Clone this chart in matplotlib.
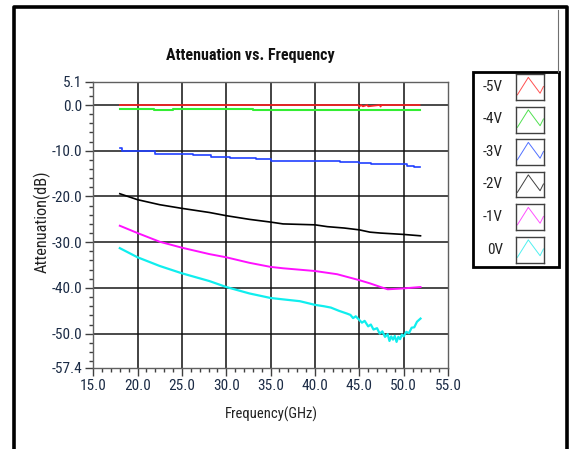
import numpy as np
import matplotlib
matplotlib.use("Agg")
import matplotlib.pyplot as plt
from matplotlib import font_manager
from matplotlib.lines import Line2D
from matplotlib.patches import Rectangle
from matplotlib.ticker import MultipleLocator, FixedLocator

# prefer a narrow face, the original uses a condensed UI font
installed = {f.name for f in font_manager.fontManager.ttflist}
narrow = [n for n in ['Liberation Sans Narrow', 'Roboto Condensed', 'Noto Sans Condensed',
                      'Open Sans Condensed', 'DejaVu Sans Condensed'] if n in installed]
if narrow:
    plt.rcParams['font.family'] = [narrow[0], 'DejaVu Sans']
    fs = 10.5
else:
    plt.rcParams['font.family'] = ['Liberation Sans', 'DejaVu Sans']
    fs = 9.5

# -5V (red)
freqM5 = [18.0, 44.9, 45.0, 45.2, 45.4, 45.9, 46.0, 47.3, 47.4, 47.5, 51.8]
attM5 = [0.0, 0.0, -0.35, 0.0, -0.3, 0.0, -0.3, 0.0, -0.35, 0.0, 0.0]

# -4V (green), stepped
freqM4 = [18.0, 21.8, 24.0, 33.0, 51.8]
attM4 = [-0.8, -1.1, -0.8, -1.1, -1.1]

# -3V (blue), stepped
freqM3 = [18.0, 18.3, 20.6, 22.0, 26.3, 28.3, 30.4, 33.4, 35.0, 42.8, 45.0, 46.3, 50.4, 51.2, 51.8]
attM3 = [-9.5, -10.0, -10.1, -10.7, -11.0, -11.3, -11.6, -11.9, -12.15, -12.4, -12.7, -13.0, -13.3, -13.6, -13.6]

# -2V (black)
freqM2 = [18.0, 20.0, 22.5, 25.0, 28.1, 30.0, 32.6, 35.0, 36.4, 40.0, 41.4, 43.3, 45.0, 46.2, 47.4, 50.0, 51.9]
attM2 = [-19.4, -20.7, -21.8, -22.6, -23.5, -24.2, -25.0, -25.6, -26.0, -26.2, -26.6, -26.9, -27.3, -27.8, -28.0, -28.3, -28.6]

# -1V (magenta)
freqM1 = [18.0, 20.0, 22.5, 25.0, 28.1, 30.0, 32.6, 35.0, 36.4, 40.0, 42.5, 45.0, 46.2, 47.4, 48.2, 50.0, 51.9]
attM1 = [-26.4, -28.0, -29.9, -31.2, -32.6, -33.3, -34.5, -35.4, -35.7, -36.3, -37.0, -38.3, -39.0, -39.8, -40.3, -40.1, -39.8]

# 0V (cyan), noisy near the bottom
freq0 = [18.0, 20.0, 22.5, 25.0, 28.1, 30.0, 32.6, 35.0, 36.4, 38.3, 40.0, 41.0, 41.8, 42.7, 43.6,
         44.0, 44.3, 44.6, 45.0, 45.3, 45.6, 46.0, 46.3, 46.6, 47.0, 47.3, 47.6, 47.9, 48.2, 48.4,
         48.6, 48.8, 49.0, 49.2, 49.4, 49.6, 49.8, 50.0, 50.3, 50.6, 50.9, 51.2, 51.5, 51.9]
att0 = [-31.3, -33.3, -35.2, -36.8, -38.5, -39.8, -41.2, -42.2, -42.5, -42.9, -43.7, -44.0, -44.3, -45.0, -45.6,
        -45.9, -46.6, -46.2, -47.0, -47.6, -47.2, -48.4, -48.0, -49.1, -48.8, -50.0, -49.5, -50.7, -50.1, -51.6,
        -50.6, -51.3, -50.5, -51.8, -50.7, -51.2, -50.2, -50.6, -49.6, -49.9, -48.7, -48.6, -47.4, -46.7]

seriesLabels = ['-5V', '-4V', '-3V', '-2V', '-1V', '0V']
seriesColors = ['#ff2020', '#33ee33', '#2040ff', '#000000', '#ff10ff', '#10eeee']
iconColors = ['#ff5050', '#50e050', '#5070ff', '#404040', '#ff50ff', '#50f0f0']

xTicks = [15, 20, 25, 30, 35, 40, 45, 50, 55]
yTicks = [5.1, 0.0, -10.0, -20.0, -30.0, -40.0, -50.0, -57.4]

W, H = 569, 449
fig = plt.figure(figsize=(W / 100, H / 100), dpi=100)
fig.patch.set_facecolor('white')

ax = fig.add_axes([93.2 / W, 1 - 367.5 / H, (448 - 93.2) / W, (367.5 - 81.7) / H])

# grid
for g in [0, -10, -20, -30, -40, -50]:
    ax.axhline(g, color='#3a3a3a', lw=1.3, zorder=1)
for g in [20, 25, 30, 35, 40, 45, 50]:
    ax.axvline(g, color='#101010', lw=1.1, zorder=1)

lw = 1.2
ax.plot(freqM5, attM5, color=seriesColors[0], lw=lw, zorder=3)
ax.plot(freqM4, attM4, color=seriesColors[1], lw=lw + 0.3, drawstyle='steps-post', zorder=3)
ax.plot(freqM3, attM3, color=seriesColors[2], lw=lw, drawstyle='steps-post', zorder=3)
ax.plot(freqM2, attM2, color=seriesColors[3], lw=lw, zorder=3)
ax.plot(freqM1, attM1, color=seriesColors[4], lw=lw + 0.2, zorder=3)
ax.plot(freq0, att0, color=seriesColors[5], lw=lw + 0.4, zorder=3)

ax.set_xlim(15, 55)
ax.set_ylim(-57.4, 5.1)
ax.xaxis.set_major_locator(FixedLocator(xTicks))
ax.xaxis.set_minor_locator(MultipleLocator(1))
ax.yaxis.set_major_locator(FixedLocator(yTicks))
ax.yaxis.set_minor_locator(FixedLocator([4, 2] + [v for v in range(-2, -57, -2) if v % 10 != 0]))
ax.set_xticklabels([f'{v:.1f}' for v in xTicks])
ax.set_yticklabels([f'{v:.1f}' for v in yTicks])

tickColor = '#1b2b45'
ax.tick_params(which='major', direction='out', length=6, width=1, color='#404040',
               labelsize=fs + 0.5, labelcolor=tickColor, pad=2)
ax.tick_params(which='minor', direction='out', length=3, width=1, color='#404040')
for s in ax.spines.values():
    s.set_color('#606060')
    s.set_linewidth(1.0)

fig.text(250 / W, 1 - 55.5 / H, 'Attenuation vs. Frequency', ha='center', va='center',
         fontsize=fs + 1, fontweight='bold', color='#111111')
fig.text(271.5 / W, 1 - 414 / H, 'Frequency(GHz)', ha='center', va='center',
         fontsize=fs, color='#222222')
fig.text(42.5 / W, 1 - 222 / H, 'Attenuation(dB)', ha='center', va='center',
         rotation=90, fontsize=fs * 1.12, color='#222222')

# legend panel
fig.add_artist(Rectangle((473 / W, 1 - 267 / H), 86 / W, 195 / H, transform=fig.transFigure,
                         fill=False, edgecolor='black', lw=2.0))
rowY = [87, 119.5, 152, 184.5, 217, 249.5]
zig_x = [0.05, 0.44, 0.86, 0.98]
zig_y = [0.2, 0.87, 0.26, 0.52]
for lab, col, cy in zip(seriesLabels, iconColors, rowY):
    fig.text(503 / W, 1 - cy / H, lab, ha='right', va='center', fontsize=fs + 0.5, color='#222222')
    iax = fig.add_axes([516 / W, 1 - (cy + 13) / H, 28 / W, 26 / H])
    iax.set_xlim(0, 1)
    iax.set_ylim(0, 1)
    iax.set_xticks([])
    iax.set_yticks([])
    for s in iax.spines.values():
        s.set_color('#404040')
        s.set_linewidth(1.0)
    iax.plot(zig_x, zig_y, color=col, lw=0.7)

# outer frame
frame = dict(color='black', lw=2.6, transform=fig.transFigure, solid_capstyle='projecting')
fig.add_artist(Line2D([13.8 / W, 13.8 / W, 567.2 / W, 567.2 / W],
                      [-0.05, 1 - 7 / H, 1 - 7 / H, -0.05], **frame))
fig.add_artist(Line2D([557.5 / W, 557.5 / W], [1 - 10 / H, 1 - 72 / H],
                      color='#707070', lw=0.8, transform=fig.transFigure))

fig.savefig('out.png', dpi=100, facecolor='white')
